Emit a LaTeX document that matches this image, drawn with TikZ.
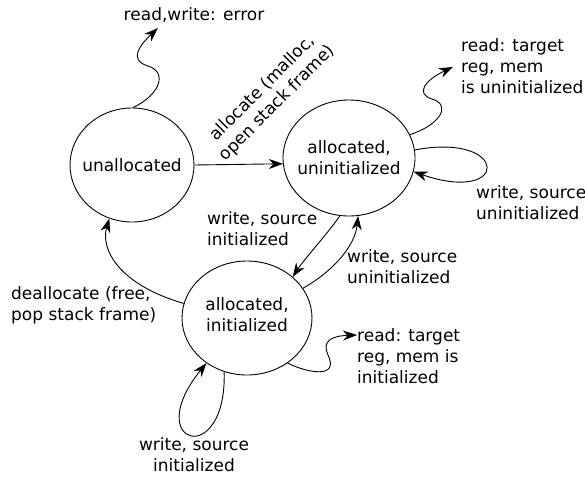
\documentclass[tikz,border=0pt]{standalone}
\usepackage{fontspec}
\setmainfont{DejaVu Sans}
\usetikzlibrary{shapes.geometric,arrows.meta}
\tikzset{
  state/.style={draw, ellipse, line width=0.9pt, inner sep=0pt},
  stxt/.style={inner sep=0pt, align=center},
  lbl/.style={inner sep=0pt, align=left, anchor=west},
  arr/.style={-{Stealth[length=14pt,width=10pt,inset=4.5pt]}, line width=0.9pt},
}
\begin{document}
\begin{tikzpicture}[x=1pt,y=-1pt,font=\fontsize{17}{21}\selectfont]
\useasboundingbox (0,0) rectangle (585,476);
% states
\node[state, minimum width=124pt, minimum height=114pt] (u) at (132,165) {};
\node[state, minimum width=132pt, minimum height=116pt] (ui) at (349,158) {};
\node[state, minimum width=130pt, minimum height=114pt] (ii) at (247,318) {};
\node[stxt] (tu) at (u) {unallocated};
\node[stxt] (tui) at (ui) {allocated,\\uninitialized};
\node[stxt] (tii) at ([yshift=3pt]ii.center) {allocated,\\initialized};
% labels
\node[inner sep=0pt] (lerr) at (194,15) {read,write: error};
\node[inner sep=0pt, align=center, rotate=45] (lalloc) at (270,96) {allocate (malloc,\\open stack frame)};
\node[lbl] (lrdu) at (461,66) {read: target\\reg, mem\\is uninitialized};
\node[lbl] (lwu) at (476,203) {write, source\\uninitialized};
\node[lbl] (lwi) at (207,229) {write, source\\initialized};
\node[lbl] (lwu2) at (347,267) {write, source\\uninitialized};
\node[lbl] (ldealloc) at (11,305) {deallocate (free,\\pop stack frame)};
\node[lbl] (lrdi) at (357,356) {read: target\\reg, mem is\\initialized};
\node[inner sep=0pt, align=center] (lwi2) at (194,455) {write, source\\initialized};
% free ends
\coordinate (e1) at (158,28);
\coordinate (e2) at (453,67);
\coordinate (e3) at (357,335);
% connectors
\draw[arr] (u.east) -- (ui.185);
\draw[arr] (u.89) .. controls (160,95) and (168,72) .. (148,66)
  .. controls (128,60) and (140,45) .. (e1);
\draw[arr] (ui.21) .. controls (440,125) and (452,105) .. (432,99)
  .. controls (415,94) and (425,80) .. (e2);
\draw[arr] (ui.7) .. controls (510,132) and (510,205) .. (ui.348);
\draw[arr] (ui.261) .. controls (325,237) and (305,258) .. (ii.42);
\draw[arr] (ii.28) .. controls (335,270) and (355,245) .. (ui.279);
\draw[arr] (ii.167) .. controls (120,285) and (100,250) .. (u.247);
\draw[arr] (ii.312) .. controls (305,372) and (340,380) .. (328,355)
  .. controls (322,342) and (330,336) .. (e3);
\draw[arr] (ii.247) .. controls (227,470) and (140,445) .. (ii.228);
\end{tikzpicture}
\end{document}
